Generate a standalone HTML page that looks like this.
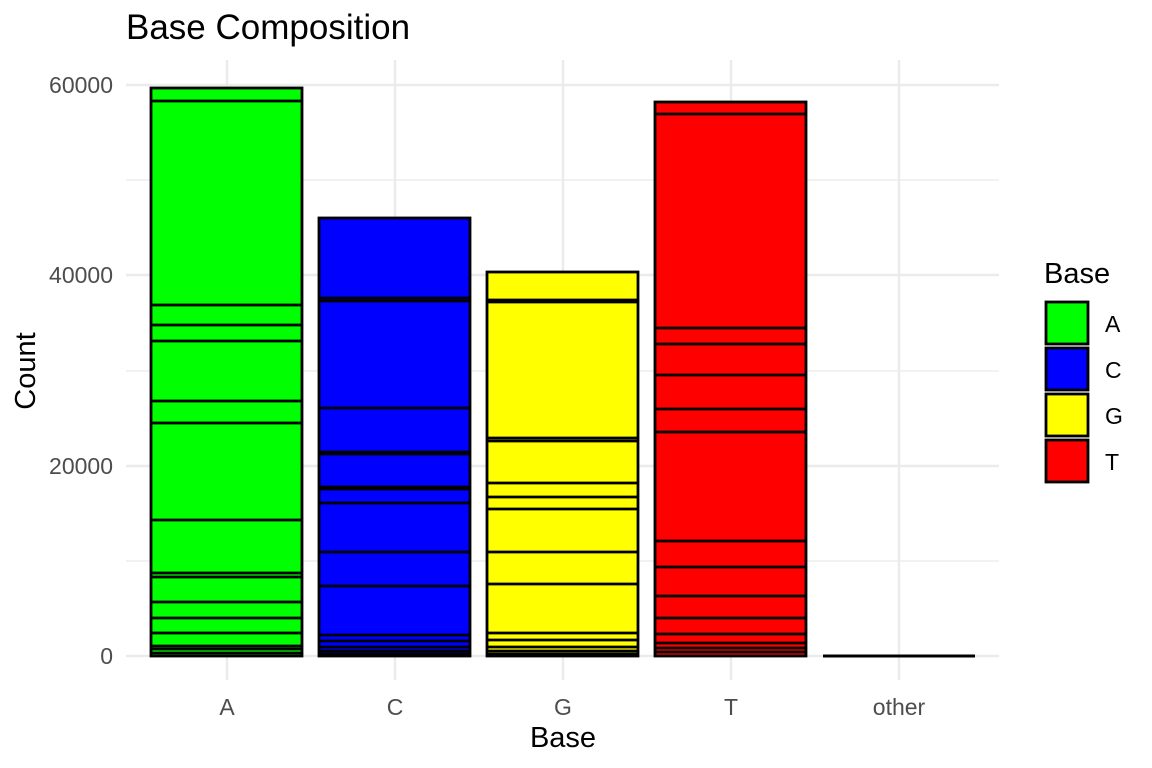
<!DOCTYPE html>
<html><head><meta charset="utf-8"><style>html,body{margin:0;padding:0;background:#fff}svg{display:block}text{font-family:"Liberation Sans",sans-serif}</style></head><body>
<svg width="1152" height="768" viewBox="0 0 1152 768" xmlns="http://www.w3.org/2000/svg">
<rect width="1152" height="768" fill="#fff"/>
<g stroke="#ebebeb" stroke-width="1.2">
<line x1="126" x2="999" y1="561" y2="561"/><line x1="126" x2="999" y1="371" y2="371"/><line x1="126" x2="999" y1="180" y2="180"/>
</g>
<g stroke="#ebebeb" stroke-width="2.4">
<line x1="126" x2="999" y1="656" y2="656"/><line x1="126" x2="999" y1="466" y2="466"/><line x1="126" x2="999" y1="275" y2="275"/><line x1="126" x2="999" y1="85" y2="85"/>
<line x1="227" x2="227" y1="60" y2="680"/><line x1="395" x2="395" y1="60" y2="680"/><line x1="563" x2="563" y1="60" y2="680"/><line x1="731" x2="731" y1="60" y2="680"/><line x1="899" x2="899" y1="60" y2="680"/>
</g>
<g stroke="#000" stroke-width="2.8">
<rect x="151" y="88" width="151" height="568" fill="#00ff00"/>
<path d="M151 101H302M151 305H302M151 325H302M151 341H302M151 401H302M151 423H302M151 520H302M151 573H302M151 577H302M151 602H302M151 618H302M151 633H302M151 646H302M151 649H302M151 653H302"/>
<rect x="319" y="218" width="151" height="438" fill="#0000ff"/>
<path d="M319 298H470M319 301H470M319 408H470M319 452H470M319 454H470M319 487H470M319 489H470M319 503H470M319 552H470M319 586H470M319 635H470M319 641H470M319 647H470M319 651H470M319 654H470"/>
<rect x="487" y="272" width="151" height="384" fill="#ffff00"/>
<path d="M487 300H638M487 302H638M487 438H638M487 441H638M487 483H638M487 497H638M487 509H638M487 552H638M487 584H638M487 633H638M487 640H638M487 647H638M487 651H638M487 654H638"/>
<rect x="655" y="102" width="151" height="554" fill="#ff0000"/>
<path d="M655 114H806M655 328H806M655 344H806M655 375H806M655 409H806M655 432H806M655 541H806M655 567H806M655 596H806M655 618H806M655 634H806M655 643H806M655 648H806M655 652H806"/>
<line x1="823" x2="975" y1="656" y2="656" stroke-width="3"/>
</g>
<g fill="#4d4d4d" font-size="23" text-anchor="end">
<text x="113" y="664">0</text><text x="113" y="474">20000</text><text x="113" y="283">40000</text><text x="113" y="93">60000</text>
</g>
<g fill="#4d4d4d" font-size="23" text-anchor="middle">
<text x="227" y="715">A</text><text x="395" y="715">C</text><text x="563" y="715">G</text><text x="731" y="715">T</text><text x="899" y="715">other</text>
</g>
<text x="563" y="747" font-size="29" text-anchor="middle">Base</text>
<text transform="translate(35,371) rotate(-90)" font-size="29" text-anchor="middle">Count</text>
<text x="126" y="39" font-size="35">Base Composition</text>
<text x="1044" y="283" font-size="29">Base</text>
<g stroke="#000" stroke-width="2.8">
<rect x="1046" y="302" width="42" height="42" fill="#00ff00"/>
<rect x="1046" y="348" width="42" height="42" fill="#0000ff"/>
<rect x="1046" y="394" width="42" height="42" fill="#ffff00"/>
<rect x="1046" y="440" width="42" height="42" fill="#ff0000"/>
</g>
<g font-size="23">
<text x="1105" y="332">A</text><text x="1105" y="378">C</text><text x="1105" y="424">G</text><text x="1105" y="470">T</text>
</g>
</svg>
</body></html>
